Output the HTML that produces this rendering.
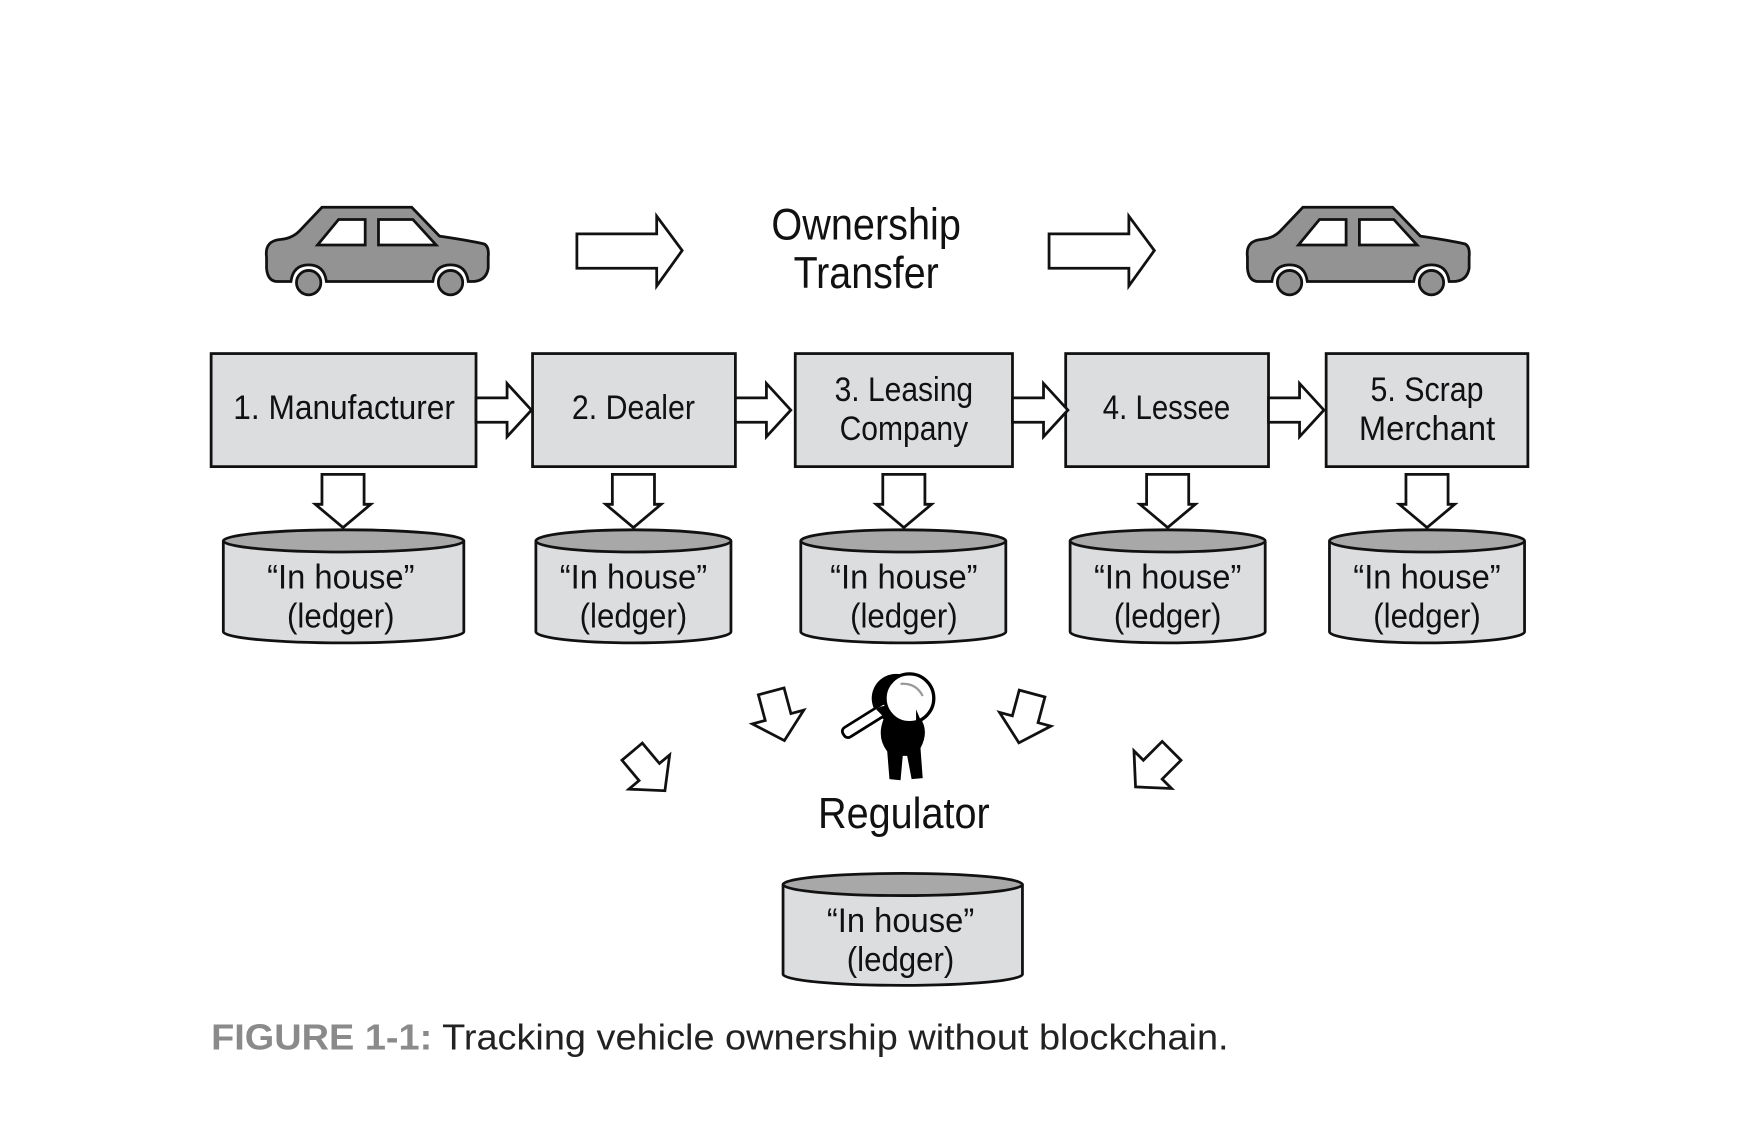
<!DOCTYPE html>
<html><head><meta charset="utf-8"><style>
html,body{margin:0;padding:0;background:#fff;width:1739px;height:1125px;overflow:hidden}
svg{display:block}
.t{font-family:"Liberation Sans",sans-serif;fill:#111;text-anchor:middle}
</style></head><body>
<svg width="1739" height="1125" viewBox="0 0 1568 1015" xmlns="http://www.w3.org/2000/svg">
<defs>
<g id="car">
<path d="M2,45 Q0,30 15,29 Q26,28 33,20 L52,0 L133,0 L158,26 Q185,30 198,33 Q203,35 202,45 L202,55 Q200,67 187,67 L184,67 Q182,52 168,52 Q154,52 152,67 L56,67 Q54,52 40,52 Q26,52 24,67 L12,67 Q3,67 2,55 Z" fill="#939393" stroke="#111" stroke-width="2.5"/>
<path d="M48,34 L67,11 L91,11 L91,34 Z M103,11 L134,11 L155,34 L103,34 Z" fill="#fff" stroke="#111" stroke-width="2.5"/>
<circle cx="40" cy="68" r="11" fill="#939393" stroke="#111" stroke-width="2.5"/>
<circle cx="168" cy="68" r="11" fill="#939393" stroke="#111" stroke-width="2.5"/>
</g>
<path id="bigR" d="M0,16 L72,16 L72,0 L95,31 L72,63 L72,47 L0,47 Z" fill="#fff" stroke="#111" stroke-width="2.5"/>
<path id="hR" d="M0,-11 L28,-11 L28,-24 L50,0 L28,24 L28,11 L0,11 Z" fill="#fff" stroke="#111" stroke-width="2.5"/>
<path id="dn" d="M-19,0 L19,0 L19,27 L25,27 L0,48 L-25,27 L-19,27 Z" fill="#fff" stroke="#111" stroke-width="2.5"/>
<path id="dg" d="M-12,-22 L12,-22 L12,2 L24,2 L0,24 L-24,2 L-12,2 Z" fill="#fff" stroke="#111" stroke-width="2.5"/>
</defs>
<use href="#car" x="238" y="187"/>
<use href="#car" x="1123" y="187"/>
<use href="#bigR" x="520" y="195"/>
<use href="#bigR" x="946" y="195"/>
<text class="t" x="781" y="216" font-size="40" textLength="171" lengthAdjust="spacingAndGlyphs">Ownership</text>
<text class="t" x="781" y="260" font-size="40" textLength="131" lengthAdjust="spacingAndGlyphs">Transfer</text>

<g fill="#dcdddf" stroke="#111" stroke-width="2.5">
<rect x="190" y="319" width="239" height="102"/>
<rect x="480" y="319" width="183" height="102"/>
<rect x="717" y="319" width="196" height="102"/>
<rect x="961" y="319" width="183" height="102"/>
<rect x="1196" y="319" width="182" height="102"/>
</g>
<use href="#hR" x="429" y="370"/>
<use href="#hR" x="663" y="370"/>
<use href="#hR" x="913" y="370"/>
<use href="#hR" x="1144" y="370"/>
<g font-size="31" lengthAdjust="spacingAndGlyphs">
<text class="t" x="310" y="378" textLength="200" lengthAdjust="spacingAndGlyphs">1. Manufacturer</text>
<text class="t" x="571" y="378" textLength="111" lengthAdjust="spacingAndGlyphs">2. Dealer</text>
<text class="t" x="815" y="362" textLength="125" lengthAdjust="spacingAndGlyphs">3. Leasing</text>
<text class="t" x="815" y="397" textLength="116" lengthAdjust="spacingAndGlyphs">Company</text>
<text class="t" x="1052" y="378" textLength="115" lengthAdjust="spacingAndGlyphs">4. Lessee</text>
<text class="t" x="1287" y="362" textLength="102" lengthAdjust="spacingAndGlyphs">5. Scrap</text>
<text class="t" x="1287" y="397" textLength="123" lengthAdjust="spacingAndGlyphs">Merchant</text>
</g>
<use href="#dn" x="309" y="428"/>
<use href="#dn" x="571" y="428"/>
<use href="#dn" x="815" y="428"/>
<use href="#dn" x="1053" y="428"/>
<use href="#dn" x="1287" y="428"/>

<g stroke="#111" stroke-width="2.5" fill="#dcdddf">
<path d="M201,488 L201,570 A108,10 0 0 0 418,570 L418,488"/><ellipse cx="309.5" cy="488" rx="108.5" ry="10" fill="#a8a8a8"/>
<path d="M483,488 L483,570 A88,10 0 0 0 659,570 L659,488"/><ellipse cx="571" cy="488" rx="88" ry="10" fill="#a8a8a8"/>
<path d="M722,488 L722,570 A92,10 0 0 0 907,570 L907,488"/><ellipse cx="814.5" cy="488" rx="92.5" ry="10" fill="#a8a8a8"/>
<path d="M965,488 L965,570 A88,10 0 0 0 1141,570 L1141,488"/><ellipse cx="1053" cy="488" rx="88" ry="10" fill="#a8a8a8"/>
<path d="M1199,488 L1199,570 A88,10 0 0 0 1375,570 L1375,488"/><ellipse cx="1287" cy="488" rx="88" ry="10" fill="#a8a8a8"/>
<path d="M706,798 L706,879 A108,10 0 0 0 922,879 L922,798"/><ellipse cx="814" cy="798" rx="108" ry="10" fill="#a8a8a8"/>
</g>
<g font-size="31">
<text class="t" x="307" y="531" textLength="133" lengthAdjust="spacingAndGlyphs">“In house”</text><text class="t" x="307" y="566" textLength="97" lengthAdjust="spacingAndGlyphs">(ledger)</text>
<text class="t" x="571" y="531" textLength="133" lengthAdjust="spacingAndGlyphs">“In house”</text><text class="t" x="571" y="566" textLength="97" lengthAdjust="spacingAndGlyphs">(ledger)</text>
<text class="t" x="815" y="531" textLength="133" lengthAdjust="spacingAndGlyphs">“In house”</text><text class="t" x="815" y="566" textLength="97" lengthAdjust="spacingAndGlyphs">(ledger)</text>
<text class="t" x="1053" y="531" textLength="133" lengthAdjust="spacingAndGlyphs">“In house”</text><text class="t" x="1053" y="566" textLength="97" lengthAdjust="spacingAndGlyphs">(ledger)</text>
<text class="t" x="1287" y="531" textLength="133" lengthAdjust="spacingAndGlyphs">“In house”</text><text class="t" x="1287" y="566" textLength="97" lengthAdjust="spacingAndGlyphs">(ledger)</text>
<text class="t" x="812" y="841" textLength="133" lengthAdjust="spacingAndGlyphs">“In house”</text><text class="t" x="812" y="876" textLength="97" lengthAdjust="spacingAndGlyphs">(ledger)</text>
</g>

<use href="#dg" transform="translate(584,695) rotate(-40)"/>
<use href="#dg" transform="translate(701,645) rotate(-15)"/>
<use href="#dg" transform="translate(925,647) rotate(15)"/>
<use href="#dg" transform="translate(1041,693) rotate(45)"/>

<g>
<path d="M797,648 Q790,665 800,678 L802,703 L812,704 L814,682 L818,682 L822,703 L832,702 L830,675 Q838,660 830,648 Z" fill="#000"/>
<circle cx="808" cy="630" r="22" fill="#000"/>
<rect x="757" y="645" width="48" height="10" rx="4" fill="#fff" stroke="#000" stroke-width="2.5" transform="rotate(-32 781 650)"/>
<path d="M790,640 Q800,632 810,645 L800,650 Z" fill="#000"/>
<circle cx="820" cy="630" r="22" fill="#fff" stroke="#000" stroke-width="3"/>
<path d="M812,617 Q826,616 832,628" fill="none" stroke="#999" stroke-width="2"/>
<path d="M826,640 L832,654 L826,654 Z" fill="#000"/>
</g>
<text class="t" x="815" y="747" font-size="39" textLength="155" lengthAdjust="spacingAndGlyphs">Regulator</text>

<text x="190" y="947" font-family="'Liberation Sans',sans-serif" font-size="33" fill="#222" textLength="918" lengthAdjust="spacingAndGlyphs"><tspan font-weight="bold" fill="#8a8a8a">FIGURE 1-1:</tspan> Tracking vehicle ownership without blockchain.</text>
</svg>
</body></html>
